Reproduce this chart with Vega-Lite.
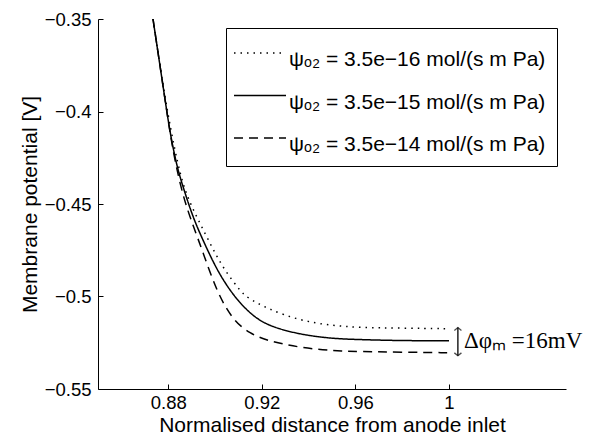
{
  "$schema": "https://vega.github.io/schema/vega-lite/v6.json",
  "width": 468,
  "height": 370,
  "autosize": "none",
  "padding": {"left": 98, "top": 19, "right": 31, "bottom": 50},
  "background": "white",
  "config": {
    "font": "Liberation Sans",
    "view": {"stroke": null},
    "axis": {
      "grid": false,
      "domainColor": "black",
      "domainWidth": 1,
      "tickColor": "black",
      "tickSize": -5,
      "labelColor": "black",
      "labelFontSize": 18.5,
      "titleColor": "black",
      "titleFontSize": 21,
      "titleFontWeight": "normal"
    }
  },
  "datasets": {
    "curves": [
      {"x": 0.8735, "y": -0.35, "psi": "3.5e−15"},
      {"x": 0.8787, "y": -0.3939, "psi": "3.5e−15"},
      {"x": 0.8808, "y": -0.4118, "psi": "3.5e−15"},
      {"x": 0.8838, "y": -0.4302, "psi": "3.5e−15"},
      {"x": 0.8864, "y": -0.441, "psi": "3.5e−15"},
      {"x": 0.8906, "y": -0.4573, "psi": "3.5e−15"},
      {"x": 0.8949, "y": -0.4697, "psi": "3.5e−15"},
      {"x": 0.9009, "y": -0.486, "psi": "3.5e−15"},
      {"x": 0.9078, "y": -0.4995, "psi": "3.5e−15"},
      {"x": 0.915, "y": -0.5093, "psi": "3.5e−15"},
      {"x": 0.9223, "y": -0.5158, "psi": "3.5e−15"},
      {"x": 0.9364, "y": -0.5206, "psi": "3.5e−15"},
      {"x": 0.9505, "y": -0.5228, "psi": "3.5e−15"},
      {"x": 0.9621, "y": -0.5233, "psi": "3.5e−15"},
      {"x": 0.9792, "y": -0.5239, "psi": "3.5e−15"},
      {"x": 1.0, "y": -0.5239, "psi": "3.5e−15"},
      {"x": 0.8735, "y": -0.35, "psi": "3.5e−16"},
      {"x": 0.8787, "y": -0.3939, "psi": "3.5e−16"},
      {"x": 0.8842, "y": -0.4302, "psi": "3.5e−16"},
      {"x": 0.8881, "y": -0.4464, "psi": "3.5e−16"},
      {"x": 0.8936, "y": -0.4605, "psi": "3.5e−16"},
      {"x": 0.9009, "y": -0.4789, "psi": "3.5e−16"},
      {"x": 0.9052, "y": -0.4876, "psi": "3.5e−16"},
      {"x": 0.9107, "y": -0.4968, "psi": "3.5e−16"},
      {"x": 0.9137, "y": -0.5006, "psi": "3.5e−16"},
      {"x": 0.9223, "y": -0.5066, "psi": "3.5e−16"},
      {"x": 0.9364, "y": -0.5131, "psi": "3.5e−16"},
      {"x": 0.9505, "y": -0.5158, "psi": "3.5e−16"},
      {"x": 0.9621, "y": -0.5168, "psi": "3.5e−16"},
      {"x": 0.9792, "y": -0.5171, "psi": "3.5e−16"},
      {"x": 1.0, "y": -0.5174, "psi": "3.5e−16"},
      {"x": 0.8735, "y": -0.35, "psi": "3.5e−14"},
      {"x": 0.8787, "y": -0.3939, "psi": "3.5e−14"},
      {"x": 0.8821, "y": -0.4226, "psi": "3.5e−14"},
      {"x": 0.8864, "y": -0.4464, "psi": "3.5e−14"},
      {"x": 0.8906, "y": -0.4616, "psi": "3.5e−14"},
      {"x": 0.8949, "y": -0.4762, "psi": "3.5e−14"},
      {"x": 0.9009, "y": -0.4979, "psi": "3.5e−14"},
      {"x": 0.9078, "y": -0.5131, "psi": "3.5e−14"},
      {"x": 0.915, "y": -0.5201, "psi": "3.5e−14"},
      {"x": 0.9223, "y": -0.5239, "psi": "3.5e−14"},
      {"x": 0.9364, "y": -0.5277, "psi": "3.5e−14"},
      {"x": 0.9505, "y": -0.5293, "psi": "3.5e−14"},
      {"x": 0.9621, "y": -0.5298, "psi": "3.5e−14"},
      {"x": 0.9792, "y": -0.5301, "psi": "3.5e−14"},
      {"x": 1.0, "y": -0.5304, "psi": "3.5e−14"}
    ],
    "arrow": [
      {"x": 1.0038, "y": -0.5168, "y2": -0.532}
    ],
    "heads": [
      {"x": 1.0038, "y": -0.5168, "end": "top"},
      {"x": 1.0038, "y": -0.532, "end": "bottom"}
    ],
    "note": [
      {"x": 1.0064, "y": -0.5242, "label": "Δφₘ =16mV"}
    ]
  },
  "layer": [
    {
      "data": {"name": "curves"},
      "mark": {"type": "line", "color": "black", "strokeWidth": 1.5, "interpolate": "basis", "clip": true},
      "encoding": {
        "x": {
          "field": "x", "type": "quantitative",
          "scale": {"domain": [0.85, 1.05], "nice": false, "zero": false},
          "axis": {"values": [0.88, 0.92, 0.96, 1], "format": ".2~f", "title": "Normalised distance from anode inlet", "labelPadding": 9, "titlePadding": 3}
        },
        "y": {
          "field": "y", "type": "quantitative",
          "scale": {"domain": [-0.55, -0.35], "nice": false, "zero": false},
          "axis": {"values": [-0.55, -0.5, -0.45, -0.4, -0.35], "format": ".2~f", "title": "Membrane potential [V]", "labelPadding": 12, "titlePadding": 4}
        },
        "strokeDash": {
          "field": "psi", "type": "nominal",
          "scale": {"domain": ["3.5e−16", "3.5e−15", "3.5e−14"], "range": [[1.5, 5], [1, 0], [9, 6]]},
          "legend": {
            "title": null,
            "orient": "top-right",
            "offset": 9,
            "strokeColor": "black",
            "fillColor": "white",
            "padding": 11,
            "rowPadding": 11.5,
            "symbolType": "M-1.2,-0.35L1.4,-0.35",
            "symbolSize": 1600,
            "symbolStrokeWidth": 1.5,
            "symbolStrokeColor": "black",
            "symbolFillColor": "transparent",
            "labelFontSize": 21,
            "labelColor": "black",
            "labelLimit": 400,
            "labelOffset": 10,
            "labelExpr": "'ψₒ₂ = ' + datum.label + ' mol/(s m Pa)'"
          }
        }
      }
    },
    {
      "data": {"name": "arrow"},
      "mark": {"type": "rule", "color": "black", "strokeWidth": 1.3},
      "encoding": {
        "x": {"field": "x", "type": "quantitative"},
        "y": {"field": "y", "type": "quantitative"},
        "y2": {"field": "y2"}
      }
    },
    {
      "data": {"name": "heads"},
      "mark": {"type": "point", "filled": false, "color": "black", "strokeWidth": 1.3, "size": 50},
      "encoding": {
        "x": {"field": "x", "type": "quantitative"},
        "y": {"field": "y", "type": "quantitative"},
        "shape": {
          "field": "end", "type": "nominal",
          "scale": {"domain": ["top", "bottom"], "range": ["M-1,0.8L0,0L1,0.8", "M-1,-0.8L0,0L1,-0.8"]},
          "legend": null
        }
      }
    },
    {
      "data": {"name": "note"},
      "mark": {"type": "text", "align": "left", "baseline": "middle", "font": "Liberation Serif", "fontSize": 23, "color": "black"},
      "encoding": {
        "x": {"field": "x", "type": "quantitative"},
        "y": {"field": "y", "type": "quantitative"},
        "text": {"field": "label"}
      }
    }
  ]
}
